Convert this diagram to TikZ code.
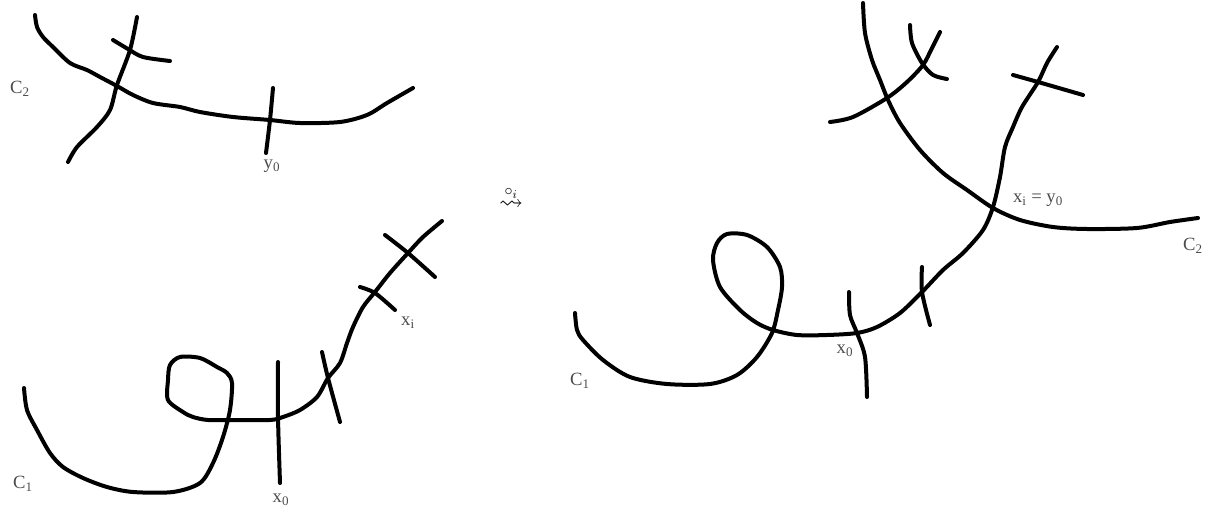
\documentclass[tikz,border=0pt]{standalone}
\usepackage{amsmath,amssymb}
\usepackage{fontspec}
\setmainfont{Liberation Serif}
\begin{document}
\begin{tikzpicture}[x=0.75pt,y=-0.75pt,
  stroke/.style={line width=3pt,line cap=round,line join=round},
  lbl/.style={text=black!70,font=\fontsize{14}{16}\selectfont,inner sep=0pt}]
\useasboundingbox (0,0) rectangle (1209,514);
% ---------- left top: C2 ----------
\draw[stroke] plot[smooth,tension=0.5] coordinates {(35,15) (37,27) (43,37) (53,47) (70,63) (87,70) (100,77) (117,86) (133,95) (153,103) (180,107) (200,112) (233,117) (270,120) (300,123) (340,122) (367,115) (387,103) (413,88)};
\draw[stroke] plot[smooth,tension=0.5] coordinates {(137,17) (130,50) (117,85) (110,110) (97,127) (77,147) (68,162)};
\draw[stroke] plot[smooth,tension=0.5] coordinates {(113,40) (128,49) (143,57) (170,61)};
\draw[stroke] plot[smooth,tension=0.5] coordinates {(273,88) (270,120) (266,153)};
\node[lbl] (c2a) at (20,89) {C\textsubscript{2}};
\node[lbl] (y0a) at (272,166) {y\textsubscript{0}};
% ---------- left bottom: C1 ----------
\draw[stroke] plot[smooth,tension=0.5] coordinates {(24,388) (27,410) (37,430) (50,453) (63,467) (83,478) (107,487) (133,492) (173,492) (200,483) (213,463) (223,437) (230,410) (232,383) (227,373) (217,367) (200,358) (180,357) (170,365) (168,380) (168,400) (183,412) (193,417) (208,420) (233,420) (270,420) (283,417) (300,410) (317,397) (328,378) (340,363) (347,343) (353,327) (363,307) (375,292) (390,273) (408,253) (423,237) (442,221)};
\draw[stroke] plot[smooth,tension=0.5] coordinates {(278,362) (278,417) (280,483)};
\draw[stroke] plot[smooth,tension=0.5] coordinates {(322,352) (328,378) (340,422)};
\draw[stroke] plot[smooth,tension=0.5] coordinates {(360,287) (375,293) (395,310)};
\draw[stroke] plot[smooth,tension=0.5] coordinates {(385,235) (408,253) (435,277)};
\node[lbl] (c1a) at (23,484) {C\textsubscript{1}};
\node[lbl] (x0a) at (281,500) {x\textsubscript{0}};
\node[lbl] (xia) at (408,323) {x\textsubscript{i}};
% ---------- arrow ----------
\node[inner sep=0pt,font=\fontsize{18}{20}\selectfont] (arr) at (511,198) {$\overset{\circ_i}{\rightsquigarrow}$};
% ---------- right ----------
\draw[stroke] plot[smooth,tension=0.5] coordinates {(863,3) (865,33) (872,60) (880,80) (888,100) (900,123) (920,150) (943,173) (967,190) (993,208) (1020,220) (1053,227) (1087,229) (1137,228) (1170,222) (1198,218)};
\draw[stroke] plot[smooth,tension=0.5] coordinates {(830,122) (853,117) (887,98) (907,82) (923,65) (932,48) (940,32)};
\draw[stroke] plot[smooth,tension=0.5] coordinates {(910,25) (912,43) (922,63) (933,75) (947,79)};
\draw[stroke] plot[smooth,tension=0.5] coordinates {(1013,75) (1038,82) (1083,95)};
\draw[stroke] plot[smooth,tension=0.5] coordinates {(575,313) (577,330) (583,340) (603,360) (630,377) (667,384) (710,384) (737,375) (757,357) (772,333) (778,310) (782,287) (780,267) (767,247) (747,235) (727,234) (717,243) (713,260) (720,287) (740,310) (757,323) (773,330) (797,335) (827,335) (857,333) (877,327) (900,313) (922,292) (943,270) (963,253) (983,230) (993,207) (1000,177) (1005,147) (1013,127) (1022,107) (1038,82) (1047,63) (1057,47)};
\draw[stroke] plot[smooth,tension=0.5] coordinates {(849,292) (850,315) (857,333) (865,357) (867,397)};
\draw[stroke] plot[smooth,tension=0.5] coordinates {(922,267) (922,292) (930,325)};
\node[lbl] (c1b) at (580,381) {C\textsubscript{1}};
\node[lbl] (x0b) at (845,351) {x\textsubscript{0}};
\node[lbl] (xyb) at (1038,200) {x\textsubscript{i} = y\textsubscript{0}};
\node[lbl] (c2b) at (1193,246) {C\textsubscript{2}};
\end{tikzpicture}
\end{document}
